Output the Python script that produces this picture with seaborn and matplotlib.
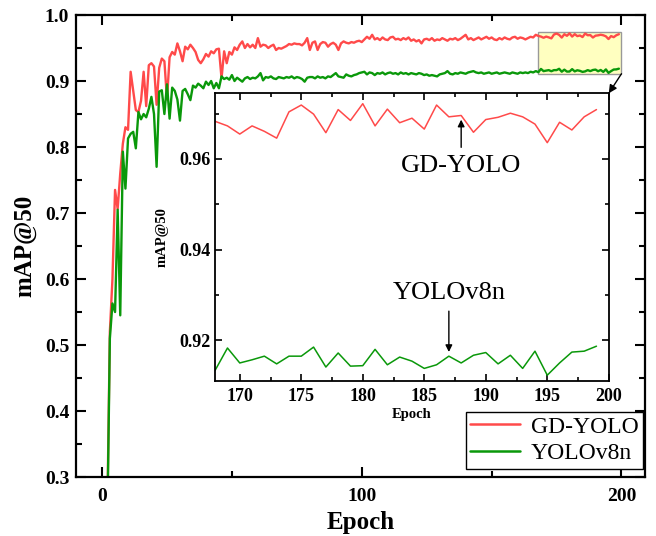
import matplotlib
matplotlib.use("Agg")
import matplotlib.pyplot as plt
from matplotlib.patches import Rectangle, ConnectionPatch
from matplotlib.ticker import MultipleLocator
import pandas as pd
import seaborn as sns

# mAP@50 per epoch
epochs = list(range(200))

gd_yolo = [
    0.030, 0.120, 0.240, 0.520, 0.600, 0.735, 0.706, 0.760, 0.805, 0.830,
    0.826, 0.914, 0.885, 0.856, 0.853, 0.870, 0.914, 0.862, 0.924, 0.927,
    0.922, 0.864, 0.920, 0.934, 0.930, 0.872, 0.936, 0.944, 0.940, 0.957,
    0.945, 0.930, 0.952, 0.948, 0.955, 0.950, 0.944, 0.932, 0.927, 0.933,
    0.941, 0.937, 0.945, 0.942, 0.948, 0.949, 0.904, 0.945, 0.927, 0.944,
    0.940, 0.951, 0.947, 0.955, 0.960, 0.950, 0.956, 0.951, 0.955, 0.950,
    0.965, 0.952, 0.955, 0.954, 0.950, 0.953, 0.955, 0.947, 0.950, 0.949,
    0.951, 0.953, 0.956, 0.955, 0.957, 0.956, 0.956, 0.954, 0.958, 0.965,
    0.947, 0.958, 0.960, 0.947, 0.956, 0.959, 0.958, 0.952, 0.956, 0.958,
    0.955, 0.947, 0.957, 0.960, 0.958, 0.957, 0.959, 0.958, 0.960, 0.961,
    0.959, 0.963, 0.967, 0.964, 0.970, 0.963, 0.965, 0.962, 0.966, 0.963,
    0.962, 0.966, 0.967, 0.963, 0.964, 0.962, 0.965, 0.963, 0.966, 0.961,
    0.963, 0.960, 0.962, 0.957, 0.963, 0.964, 0.962, 0.965, 0.961, 0.963,
    0.962, 0.965, 0.963, 0.961, 0.964, 0.963, 0.965, 0.962, 0.964, 0.967,
    0.970, 0.963, 0.965, 0.962, 0.964, 0.966, 0.963, 0.965, 0.967, 0.964,
    0.966, 0.963, 0.962, 0.965, 0.963, 0.966, 0.964, 0.963, 0.966, 0.967,
    0.964, 0.966, 0.965, 0.963, 0.965, 0.967, 0.966, 0.970,
    0.9683, 0.9673, 0.9655, 0.9673, 0.9661, 0.9646, 0.9704, 0.9719,
    0.9699, 0.9658, 0.9709, 0.9685, 0.9722, 0.9673, 0.9710, 0.9680,
    0.9690, 0.9666, 0.9719, 0.9693, 0.9696, 0.9659, 0.9687, 0.9692,
    0.9701, 0.9693, 0.9677, 0.9636, 0.9681, 0.9664, 0.9693, 0.9709,
]

yolov8n = [
    0.020, 0.100, 0.220, 0.510, 0.563, 0.550, 0.705, 0.545, 0.793, 0.737,
    0.813, 0.820, 0.823, 0.798, 0.853, 0.842, 0.850, 0.845, 0.858, 0.876,
    0.850, 0.770, 0.884, 0.886, 0.850, 0.895, 0.843, 0.890, 0.885, 0.872,
    0.840, 0.885, 0.888, 0.880, 0.871, 0.893, 0.890, 0.896, 0.893, 0.889,
    0.899, 0.894, 0.900, 0.889, 0.897, 0.889, 0.907, 0.903, 0.905, 0.902,
    0.909, 0.900, 0.905, 0.902, 0.899, 0.904, 0.906, 0.903, 0.905, 0.904,
    0.907, 0.912, 0.901, 0.906, 0.905, 0.907, 0.904, 0.903, 0.906, 0.905,
    0.904, 0.906, 0.905, 0.907, 0.904, 0.906, 0.905, 0.903, 0.899, 0.905,
    0.906, 0.906, 0.904, 0.907, 0.905, 0.906, 0.904, 0.907, 0.906, 0.909,
    0.912, 0.907, 0.906, 0.905, 0.910, 0.908, 0.907, 0.909, 0.910, 0.912,
    0.913, 0.914, 0.910, 0.913, 0.912, 0.909, 0.912, 0.911, 0.913, 0.910,
    0.912, 0.913, 0.911, 0.912, 0.910, 0.913, 0.911, 0.912, 0.910, 0.912,
    0.911, 0.910, 0.912, 0.911, 0.909, 0.910, 0.908, 0.909, 0.908, 0.907,
    0.910, 0.911, 0.912, 0.915, 0.911, 0.910, 0.912, 0.911, 0.913, 0.912,
    0.911, 0.913, 0.914, 0.915, 0.913, 0.912, 0.913, 0.911, 0.912, 0.913,
    0.911, 0.912, 0.913, 0.911, 0.912, 0.913, 0.912, 0.911, 0.913, 0.912,
    0.911, 0.913, 0.912, 0.913, 0.912, 0.914, 0.913, 0.915,
    0.9134, 0.9183, 0.9150, 0.9157, 0.9165, 0.9148, 0.9165, 0.9165,
    0.9185, 0.9141, 0.9172, 0.9143, 0.9144, 0.9180, 0.9146, 0.9163,
    0.9154, 0.9138, 0.9146, 0.9165, 0.9150, 0.9167, 0.9173, 0.9148,
    0.9167, 0.9138, 0.9176, 0.9123, 0.9150, 0.9174, 0.9176, 0.9187,
]

models = ["GD-YOLO", "YOLOv8n"]
colors = {"GD-YOLO": "#ff4a4a", "YOLOv8n": "#0a980a"}
zoom_epochs = (168, 200)
zoom_map = (0.911, 0.9745)

df = pd.DataFrame({
    "Epoch": epochs * 2,
    "mAP50": gd_yolo + yolov8n,
    "Model": [models[0]] * len(epochs) + [models[1]] * len(epochs),
})

sns.set_style("ticks", {"axes.edgecolor": "black", "xtick.color": "black",
                        "ytick.color": "black", "text.color": "black",
                        "axes.labelcolor": "black"})
plt.rcParams["font.family"] = ["Liberation Serif", "DejaVu Serif"]
plt.rcParams["font.weight"] = "bold"
plt.rcParams["axes.labelweight"] = "bold"

fig = plt.figure(figsize=(6.56, 5.36), dpi=100)

# main axes
ax = fig.add_axes([0.116, 0.110, 0.867, 0.862])
sns.lineplot(data=df, x="Epoch", y="mAP50", hue="Model", palette=colors,
             linewidth=1.7, ax=ax)
ax.set_xlim(-10, 209)
ax.set_ylim(0.3, 1.0)
ax.xaxis.set_major_locator(MultipleLocator(100))
ax.xaxis.set_minor_locator(MultipleLocator(50))
ax.yaxis.set_major_locator(MultipleLocator(0.1))
ax.yaxis.set_minor_locator(MultipleLocator(0.05))
ax.tick_params(which="both", direction="in", top=True, right=True, width=1.5,
               labelsize=14, colors="black")
ax.tick_params(which="major", length=7)
ax.tick_params(which="minor", length=4)
ax.tick_params(axis="x", pad=8)
ax.tick_params(axis="y", pad=5)
for s in ax.spines.values():
    s.set_linewidth(1.6)
    s.set_color("black")
ax.set_xlabel("Epoch", fontsize=18, labelpad=4)
ax.set_ylabel("mAP@50", fontsize=18, labelpad=6)

# highlighted zoom region
ax.add_patch(Rectangle((zoom_epochs[0], zoom_map[0]),
                       zoom_epochs[1] - zoom_epochs[0], zoom_map[1] - zoom_map[0],
                       facecolor="#ffffc0", edgecolor="#999999", lw=1, zorder=1.5))

handles, labels = ax.get_legend_handles_labels()
leg = ax.legend(handles, labels, loc="lower right", bbox_to_anchor=(0.997, 0.018),
                fancybox=False, edgecolor="black", framealpha=1,
                borderaxespad=0, handlelength=2.1, labelspacing=0.2,
                borderpad=0.2, handletextpad=0.45,
                prop={"size": 17, "weight": "normal"})
leg.get_frame().set_linewidth(1.0)
for line in leg.get_lines():
    line.set_linewidth(1.8)

# inset
axin = fig.add_axes([0.328, 0.289, 0.600, 0.537])
sns.lineplot(data=df, x="Epoch", y="mAP50", hue="Model", palette=colors,
             linewidth=1.1, ax=axin, legend=False)
axin.set_xlim(*zoom_epochs)
axin.set_ylim(*zoom_map)
axin.xaxis.set_major_locator(MultipleLocator(5))
axin.xaxis.set_minor_locator(MultipleLocator(2.5))
axin.yaxis.set_major_locator(MultipleLocator(0.02))
axin.yaxis.set_minor_locator(MultipleLocator(0.01))
axin.tick_params(which="both", direction="in", top=True, right=True, width=1.2,
                 labelsize=13, colors="black")
axin.tick_params(which="major", length=5)
axin.tick_params(which="minor", length=3)
axin.tick_params(axis="x", pad=5)
axin.tick_params(axis="y", pad=3)
for s in axin.spines.values():
    s.set_linewidth(1.3)
    s.set_color("black")
axin.set_xlabel("Epoch", fontsize=10.5, labelpad=2)
axin.set_ylabel("mAP@50", fontsize=10.5, labelpad=8)

arrow = dict(arrowstyle="-|>", color="black", lw=1, mutation_scale=10,
             shrinkA=3, shrinkB=3)
axin.annotate("GD-YOLO", xy=(188, gd_yolo[188]), xytext=(188, 0.9585),
              ha="center", va="center", fontsize=19, fontweight="normal",
              arrowprops=arrow)
axin.annotate("YOLOv8n", xy=(187, yolov8n[187]), xytext=(187, 0.9305),
              ha="center", va="center", fontsize=19, fontweight="normal",
              arrowprops=arrow)

con = ConnectionPatch(xyA=(zoom_epochs[1], zoom_map[0]), coordsA=ax.transData,
                      xyB=(1, 1), coordsB=axin.transAxes, arrowstyle="-|>",
                      color="black", lw=1, mutation_scale=12, shrinkB=0)
fig.add_artist(con)

fig.savefig("out.png", dpi=100)
